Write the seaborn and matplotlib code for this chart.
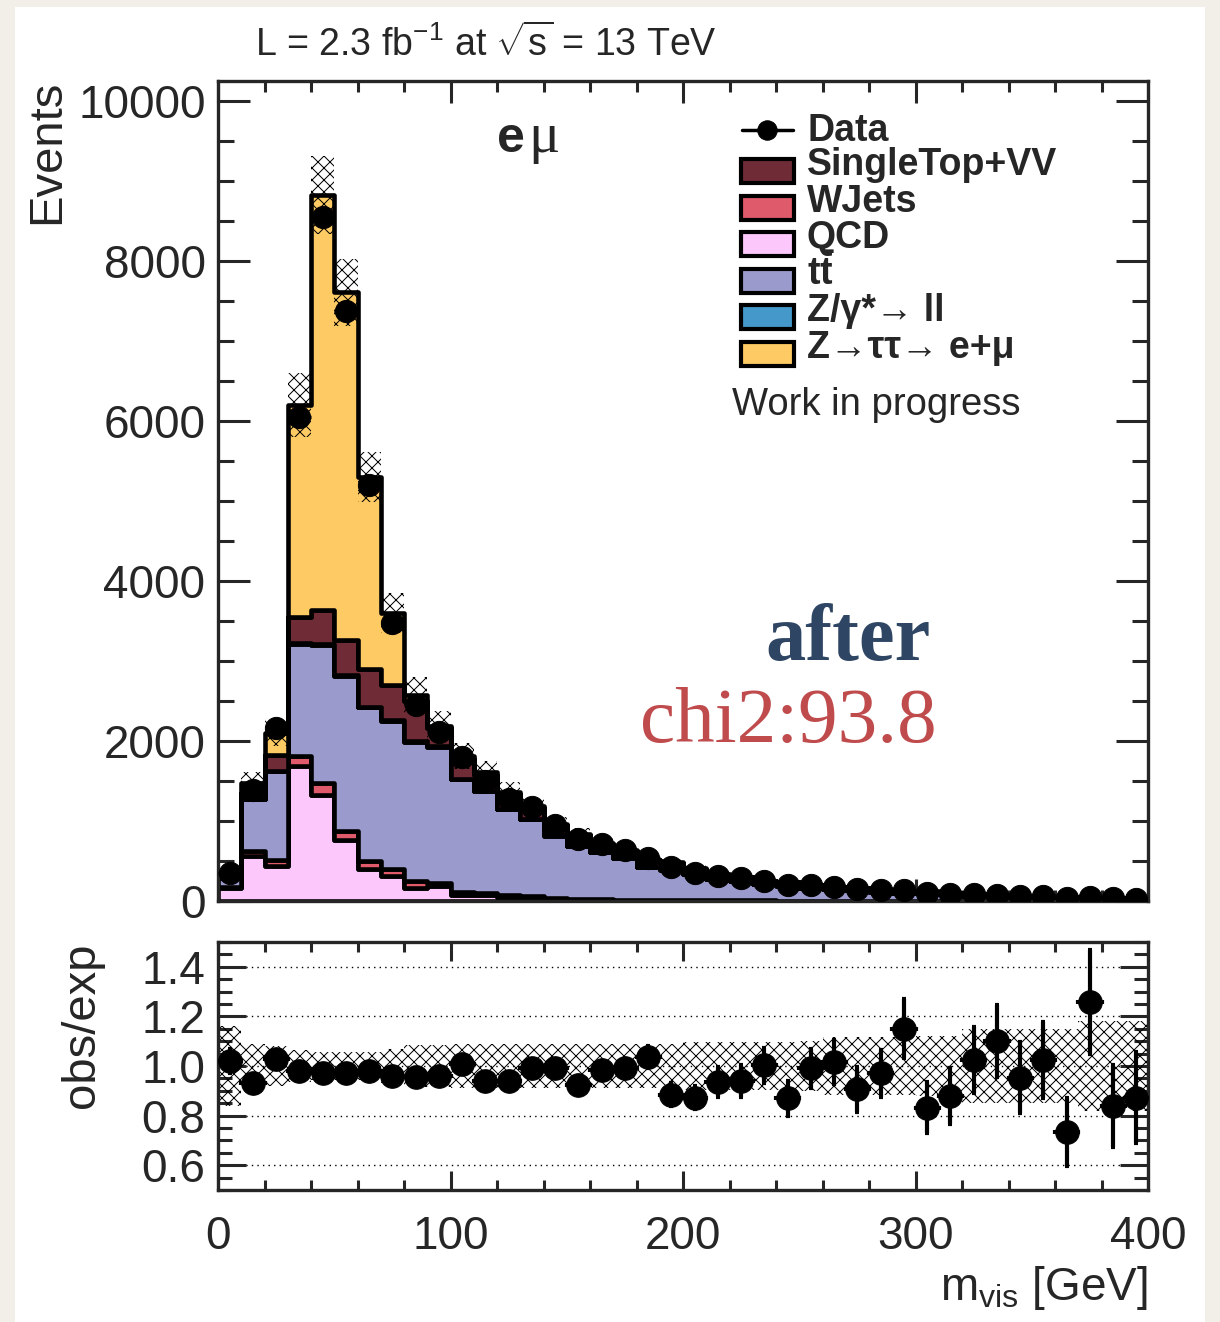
import numpy as np
import pandas as pd
import matplotlib
matplotlib.use("Agg")
import matplotlib.pyplot as plt
from matplotlib.patches import Rectangle
from matplotlib.lines import Line2D
from matplotlib.ticker import MultipleLocator, FormatStrFormatter
import seaborn as sns

# ============================================================
# data (40 bins of 10 GeV, 0-400 GeV)
# ============================================================
bin_edges = np.arange(0, 401, 10)

qcd = [160, 560, 440, 1690, 1325, 765, 400, 310, 165, 190,
       80, 75, 50, 50, 30, 20, 15, 12, 10, 8,
       8, 6, 6, 5, 4, 4, 3, 3, 3, 2,
       2, 2, 1, 1, 1, 1, 1, 1, 0, 0]
wjets = [15, 70, 70, 120, 150, 110, 100, 90, 80, 40,
         30, 25, 20, 15, 10, 10, 8, 6, 5, 4,
         4, 3, 3, 2, 2, 2, 2, 1, 1, 1,
         1, 1, 1, 1, 0, 0, 0, 0, 0, 0]
ttbar = [110, 640, 1110, 1400, 1720, 1935, 1920, 1850, 1745, 1700,
         1410, 1275, 1075, 955, 775, 660, 585, 515, 405, 380,
         320, 262, 240, 200, 187, 155, 140, 132, 114, 93,
         95, 81, 66, 58, 52, 45, 44, 32, 31, 26]
zll = [5, 10, 10, 15, 20, 15, 10, 10, 5, 5,
       5, 5, 5, 5, 5, 3, 3, 2, 2, 2,
       2, 2, 1, 1, 1, 1, 1, 1, 1, 0,
       0, 0, 0, 0, 0, 0, 0, 0, 0, 0]
singletop_vv = [20, 70, 200, 320, 420, 440, 470, 440, 500, 230,
                250, 200, 190, 140, 130, 130, 100, 95, 85, 83,
                66, 54, 49, 42, 39, 32, 29, 27, 23, 19,
                20, 17, 14, 12, 11, 10, 9, 7, 7, 6]
ztautau = [25, 130, 270, 2655, 5190, 4345, 2400, 900, 80, 25,
           35, 30, 25, 20, 15, 12, 9, 10, 8, 8,
           7, 5, 4, 4, 3, 3, 2, 2, 2, 2,
           2, 1, 1, 1, 1, 1, 1, 0, 0, 0]

data_obs = [350, 1390, 2160, 6050, 8550, 7380, 5200, 3470, 2450, 2110,
            1800, 1500, 1275, 1170, 955, 772, 712, 637, 533, 430,
            355, 310, 285, 255, 205, 195, 180, 150, 140, 135,
            100, 90, 85, 80, 62, 58, 40, 50, 32, 28]

ratio_obs = [1.02, 0.93, 1.03, 0.98, 0.97, 0.97, 0.98, 0.96, 0.955, 0.96,
             1.01, 0.94, 0.94, 0.99, 0.99, 0.925, 0.985, 0.99, 1.035, 0.885,
             0.872, 0.935, 0.94, 1.003, 0.87, 0.99, 1.016, 0.906, 0.97, 1.151,
             0.832, 0.879, 1.024, 1.10, 0.953, 1.024, 0.733, 1.259, 0.839, 0.872]
ratio_err = [0.05, 0.03, 0.025, 0.015, 0.013, 0.013, 0.015, 0.018, 0.02, 0.022,
             0.024, 0.025, 0.027, 0.03, 0.032, 0.033, 0.037, 0.04, 0.045, 0.045,
             0.047, 0.059, 0.064, 0.07, 0.07, 0.08, 0.09, 0.09, 0.094, 0.118,
             0.104, 0.114, 0.133, 0.144, 0.144, 0.155, 0.136, 0.21, 0.165, 0.183]

# relative uncertainty of the expectation (hatched band)
unc_rel = [0.16, 0.09, 0.08, 0.065, 0.055, 0.055, 0.058, 0.07, 0.085, 0.085,
           0.088, 0.088, 0.088, 0.088, 0.088, 0.088, 0.09, 0.09, 0.09, 0.09,
           0.095, 0.095, 0.095, 0.095, 0.095, 0.1, 0.115, 0.115, 0.115, 0.115,
           0.12, 0.12, 0.15, 0.15, 0.15, 0.15, 0.15, 0.18, 0.18, 0.18]

# stacking order, top -> bottom (seaborn puts the first hue level on top)
stack_order = ["ztt", "st", "zll", "tt", "wj", "qcd"]
stack_values = {"ztt": ztautau, "st": singletop_vv, "zll": zll,
                "tt": ttbar, "wj": wjets, "qcd": qcd}
colors = {"ztt": "#fdca63", "st": "#6f2b36", "zll": "#4498ca",
          "tt": "#9b9acc", "wj": "#df5a6b", "qcd": "#fcc8fb"}

legend_entries = [("st", "SingleTop+VV"), ("wj", "WJets"), ("qcd", "QCD"),
                  ("tt", r"$\mathbf{t\bar{t}}$"), ("zll", "Z/γ*→ ll"),
                  ("ztt", "Z→ττ→ e+μ")]

# ============================================================
# style
# ============================================================
sns.set_style("ticks")
plt.rcParams["font.family"] = ["Liberation Sans", "DejaVu Sans"]
plt.rcParams["mathtext.fontset"] = "custom"
plt.rcParams["mathtext.rm"] = "Liberation Sans"
plt.rcParams["mathtext.it"] = "Liberation Sans:italic"
plt.rcParams["mathtext.bf"] = "Liberation Sans:bold"
plt.rcParams["hatch.linewidth"] = 1.0

# figure at 72 dpi so the hatch cell is ~12 px; PT converts the sizes
DPI = 72
PT = 100 / 72
W, H = 1220, 1322
def fx(px):
    return px / W
def fy(py):
    return 1 - py / H

fig = plt.figure(figsize=(W / DPI, H / DPI), dpi=DPI)
fig.patch.set_facecolor("#f2eee8")
fig.add_artist(Rectangle((fx(15), 0), fx(1205) - fx(15), fy(7),
                         transform=fig.transFigure, facecolor="white",
                         edgecolor="none", zorder=-10))

ax = fig.add_axes([fx(218), fy(901), 930 / W, 820 / H])
rax = fig.add_axes([fx(218), fy(1190), 930 / W, 248 / H])

centers = (bin_edges[:-1] + bin_edges[1:]) / 2
nb = len(centers)

# ------------------------------------------------------------
# main panel: stacked backgrounds
# ------------------------------------------------------------
df = pd.DataFrame({
    "mvis": np.tile(centers, len(stack_order)),
    "events": np.concatenate([stack_values[k] for k in stack_order]),
    "process": np.repeat(stack_order, nb),
})
sns.histplot(data=df, x="mvis", weights="events", hue="process",
             hue_order=stack_order, palette=colors, multiple="stack",
             bins=bin_edges.tolist(), element="step", fill=True, alpha=1,
             edgecolor="black", linewidth=3.3 * PT, legend=False, ax=ax)

total = np.sum([np.array(v, dtype=float) for v in stack_values.values()], axis=0)
unc = np.array(unc_rel)
hi = total * (1 + unc)
lo = total * (1 - unc)
ax.fill_between(bin_edges, np.append(lo, lo[-1]), np.append(hi, hi[-1]),
                step="post", facecolor="none", edgecolor="black",
                hatch="xx", linewidth=0, zorder=2)

ax.errorbar(centers, data_obs, xerr=5, fmt="o", color="black", ms=16 * PT,
            elinewidth=2.5 * PT, capsize=0, zorder=4)

ax.set_xlim(0, 400)
ax.set_ylim(0, 10250)
ax.set_xlabel("")
ax.set_ylabel("")
ax.xaxis.set_major_locator(MultipleLocator(100))
ax.xaxis.set_minor_locator(MultipleLocator(20))
ax.yaxis.set_major_locator(MultipleLocator(2000))
ax.yaxis.set_minor_locator(MultipleLocator(500))
ax.yaxis.set_major_formatter(FormatStrFormatter("%d"))
ax.tick_params(which="both", direction="in", top=True, right=True,
               width=2.2 * PT, labelsize=33 * PT, labelbottom=False)
ax.tick_params(axis="y", which="major", length=23 * PT, pad=9 * PT)
ax.tick_params(axis="y", which="minor", length=11.5 * PT)
ax.tick_params(axis="x", which="major", length=16 * PT)
ax.tick_params(axis="x", which="minor", length=8 * PT)
for s in ax.spines.values():
    s.set_linewidth(2.4 * PT)
    s.set_visible(True)

# ------------------------------------------------------------
# ratio panel
# ------------------------------------------------------------
rax.fill_between(bin_edges, np.append(1 - unc, 1 - unc[-1]),
                 np.append(1 + unc, 1 + unc[-1]), step="post",
                 facecolor="none", edgecolor="black", hatch="xx",
                 linewidth=0, zorder=2)
rax.errorbar(centers, ratio_obs, xerr=5, yerr=ratio_err, fmt="o",
             color="black", ms=17 * PT, elinewidth=3 * PT, capsize=1.5 * PT,
             capthick=3 * PT, zorder=4)

rax.set_xlim(0, 400)
rax.set_ylim(0.5, 1.5)
rax.xaxis.set_major_locator(MultipleLocator(100))
rax.xaxis.set_minor_locator(MultipleLocator(20))
rax.yaxis.set_major_locator(MultipleLocator(0.2))
rax.yaxis.set_minor_locator(MultipleLocator(0.05))
rax.yaxis.set_major_formatter(FormatStrFormatter("%.1f"))
rax.yaxis.grid(True, which="major", linestyle=(0, (1, 3)), color="black",
               linewidth=1.0 * PT)
rax.tick_params(which="both", direction="in", top=True, right=True,
                width=2.2 * PT, labelsize=33 * PT)
rax.tick_params(axis="y", which="major", length=20 * PT, pad=9 * PT)
rax.tick_params(axis="y", which="minor", length=10 * PT)
rax.tick_params(axis="x", which="major", length=14 * PT, pad=18 * PT)
rax.tick_params(axis="x", which="minor", length=7 * PT)
for s in rax.spines.values():
    s.set_linewidth(2.4 * PT)
    s.set_visible(True)

# ------------------------------------------------------------
# texts
# ------------------------------------------------------------
fig.text(fx(47), fy(80), "Events", rotation=90, ha="center", va="top",
         fontsize=34 * PT)
fig.text(fx(82), fy(942), "obs/exp", rotation=90, ha="center", va="top",
         fontsize=34 * PT)
fig.text(fx(1148), fy(1300), r"m$_{\rm vis}$ [GeV]", ha="right",
         va="baseline", fontsize=33 * PT)
fig.text(fx(255), fy(56), r"L = 2.3 fb$^{-1}$ at $\sqrt{\rm s}$ = 13 TeV",
         va="baseline", fontsize=27 * PT)
fig.text(fx(497), fy(152), "e", fontsize=36 * PT, fontweight="bold",
         va="baseline")
fig.text(fx(528), fy(152), "μ", fontsize=42 * PT, family="Liberation Serif",
         va="baseline")

# legend drawn by hand (tight ROOT-like rows)
fig.add_artist(Line2D([fx(742), fx(793)], [fy(130), fy(130)],
                      transform=fig.transFigure, color="black", lw=2.5 * PT))
fig.add_artist(Line2D([fx(767)], [fy(130)], transform=fig.transFigure,
                      marker="o", ms=14 * PT, color="black"))
fig.text(fx(807), fy(141), "Data", fontsize=27 * PT, fontweight="bold",
         va="baseline")
for i, (key, label) in enumerate(legend_entries):
    base = 175 + 36.6 * i
    fig.add_artist(Rectangle((fx(741), fy(base + 8)), 53 / W, 24 / H,
                             transform=fig.transFigure,
                             facecolor=colors[key], edgecolor="black",
                             linewidth=3 * PT))
    fig.text(fx(807), fy(base), label, fontsize=27 * PT, fontweight="bold",
             va="baseline")
fig.text(fx(732), fy(415), "Work in progress", fontsize=27.5 * PT,
         va="baseline")

fig.text(fx(848), fy(660), "after", fontsize=58 * PT, fontweight="bold",
         family="Liberation Serif", color="#2e4563", ha="center",
         va="baseline")
fig.text(fx(788), fy(742), "chi2:93.8", fontsize=57 * PT,
         family="Liberation Serif", color="#c04b4d", ha="center",
         va="baseline")

plt.savefig("out.png", dpi=DPI, facecolor=fig.get_facecolor())
